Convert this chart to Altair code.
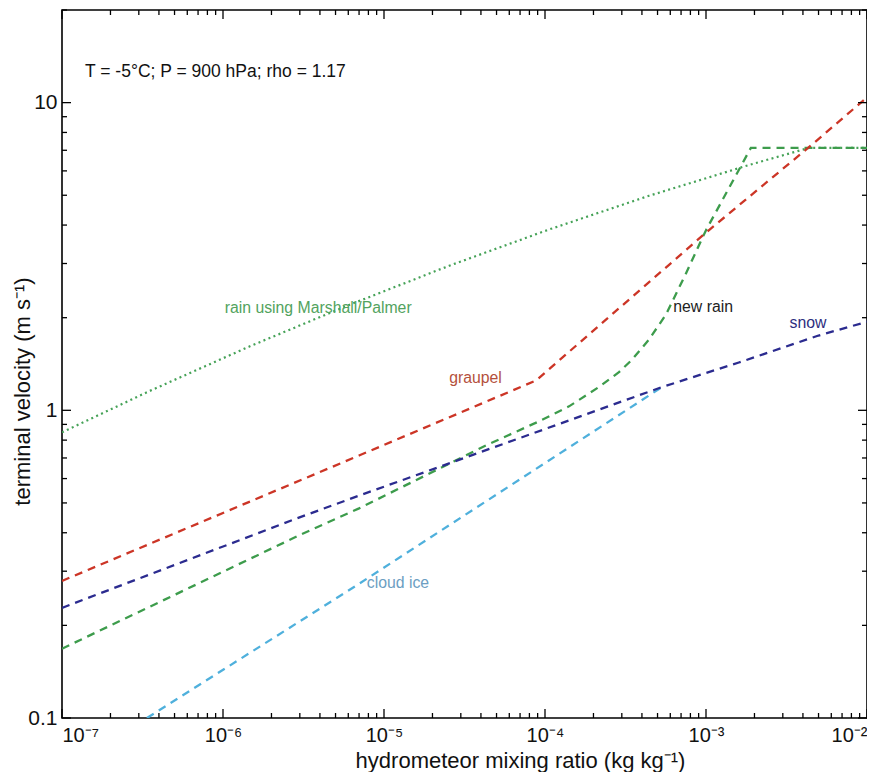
import altair as alt
import pandas as pd

# ---------------- data ----------------
X_DOMAIN = [1e-7, 1e-2]
Y_DOMAIN = [0.1, 20]

mp_x = [1e-7, 3.47e-7, 1.45e-6, 6.07e-6, 2.54e-5, 1.06e-4, 4.43e-4, 1.85e-3, 4.37e-3, 1e-2]
mp_v = [0.848, 1.153, 1.61, 2.20, 2.95, 3.87, 4.98, 6.27, 7.13, 7.13]

graupel_x = [1e-7, 7.0e-6, 8.8e-5, 1e-3, 4.55e-3, 1e-2]
graupel_v = [0.279, 0.713, 1.25, 3.78, 7.3, 10.4]

snow_x = [1e-7, 2.96e-6, 7.0e-6, 5.33e-4, 1.6e-3, 5.0e-3, 1e-2]
snow_v = [0.228, 0.448, 0.528, 1.19, 1.43, 1.75, 1.94]

newrain_x = [1e-7, 2.96e-6, 7.0e-6, 4.3e-5, 9.18e-5, 1.41e-4, 2.16e-4, 2.88e-4, 3.47e-4,
             4.43e-4, 5.65e-4, 7.52e-4, 1e-3, 1.39e-3, 1.9e-3, 1e-2]
newrain_v = [0.168, 0.392, 0.480, 0.769, 0.921, 1.03, 1.19, 1.33, 1.46,
             1.70, 2.05, 2.79, 3.85, 5.28, 7.13, 7.13]

cloudice_x = [3.37e-7, 7.0e-6, 5.33e-4]
cloudice_v = [0.1, 0.273, 1.19]

labels_text = ["rain using Marshall/Palmer", "graupel", "new rain", "snow", "cloud ice"]
labels_x = [3.9e-6, 3.7e-5, 9.6e-4, 4.3e-3, 1.22e-5]
labels_v = [2.15, 1.27, 2.16, 1.92, 0.275]
labels_color = ["#52a35e", "#b4503c", "#222222", "#2e2e80", "#6c9ec2"]

note_text = "T = -5°C; P = 900 hPa; rho = 1.17"
note_x = [1.39e-7]
note_v = [12.6]

x_tick_values = [1e-7, 1e-6, 1e-5, 1e-4, 1e-3, 1e-2]
x_tick_labels = ["10⁻⁷", "10⁻⁶", "10⁻⁵", "10⁻⁴", "10⁻³", "10⁻²"]
y_tick_values = [0.1, 1, 10]
y_tick_labels = ["0.1", "1", "10"]

x_minor = [k * 10.0 ** d for d in range(-7, -2) for k in range(2, 10)]
y_minor = [k * 10.0 ** d for d in (-1, 0) for k in range(2, 10)] + [20]

# ---------------- styling ----------------
W, H = 805, 708
FONT = "Liberation Sans"

xs = alt.Scale(type="log", domain=X_DOMAIN)
ys = alt.Scale(type="log", domain=Y_DOMAIN)

x_label_expr = "[" + ",".join(f"'{s}'" for s in x_tick_labels) + "][round(log(datum.value)/LN10) + 7]"
y_label_expr = "[" + ",".join(f"'{s}'" for s in y_tick_labels) + "][round(log(datum.value)/LN10) + 1]"

x_axis = alt.Axis(values=x_tick_values, labelExpr=x_label_expr, ticks=False, tickSize=0,
                  domain=False, grid=False, labelFlush=True, labelFontSize=20,
                  labelPadding=7, labelColor="#111111",
                  title="hydrometeor mixing ratio (kg kg⁻¹)", titleFontSize=22,
                  titleFontWeight="normal", titleColor="#111111",
                  titleX=458, titleY=49, titleAlign="center", titleBaseline="alphabetic")
y_axis = alt.Axis(values=y_tick_values, labelExpr=y_label_expr, ticks=False, tickSize=0,
                  domain=False, grid=False, labelFontSize=21, labelPadding=5,
                  labelColor="#111111",
                  title="terminal velocity (m s⁻¹)", titleFontSize=22,
                  titleFontWeight="normal", titleColor="#111111",
                  titleX=-28, titleY=381, titleAlign="center", titleBaseline="bottom",
                  titleAngle=270)

X = lambda: alt.X("x:Q", scale=xs, axis=x_axis)
Y = lambda: alt.Y("v:Q", scale=ys, axis=y_axis)

series = [
    (mp_x, mp_v, "#45a257", [2, 3.4], 2.2),
    (cloudice_x, cloudice_v, "#4fb0dc", [8, 6], 2.3),
    (newrain_x, newrain_v, "#3d9c4c", [8, 6], 2.3),
    (snow_x, snow_v, "#2b2b8f", [8, 6], 2.3),
    (graupel_x, graupel_v, "#cc3526", [8, 6], 2.3),
]

layers = []
for sx, sv, col, dash, sw in series:
    df = pd.DataFrame({"x": sx, "v": sv})
    layers.append(
        alt.Chart(df).mark_line(color=col, strokeDash=dash, strokeWidth=sw, clip=True)
        .encode(x=X(), y=Y())
    )

lab_df = pd.DataFrame({"x": labels_x, "v": labels_v, "t": labels_text, "c": labels_color})
layers.append(
    alt.Chart(lab_df).mark_text(fontSize=15.8, font=FONT, align="center", baseline="middle")
    .encode(x=X(), y=Y(), text="t:N", color=alt.Color("c:N", scale=None))
)

note_df = pd.DataFrame({"x": note_x, "v": note_v, "t": [note_text]})
layers.append(
    alt.Chart(note_df).mark_text(fontSize=17.5, font=FONT, align="left", baseline="middle", color="#111111")
    .encode(x=X(), y=Y(), text="t:N")
)

# tick marks (inward, on all four sides)
xmaj = pd.DataFrame({"x": x_tick_values})
xmin = pd.DataFrame({"x": x_minor})
ymaj = pd.DataFrame({"v": y_tick_values})
ymin = pd.DataFrame({"v": y_minor})
MAJ, MIN = 9, 5
for df, ln in ((xmaj, MAJ), (xmin, MIN)):
    layers.append(alt.Chart(df).mark_rule(color="black", strokeWidth=1.3)
                  .encode(x=X(), y=alt.value(H), y2=alt.value(H - ln)))
    layers.append(alt.Chart(df).mark_rule(color="black", strokeWidth=1.3)
                  .encode(x=X(), y=alt.value(0), y2=alt.value(ln)))
for df, ln in ((ymaj, MAJ), (ymin, MIN)):
    layers.append(alt.Chart(df).mark_rule(color="black", strokeWidth=1.3)
                  .encode(y=Y(), x=alt.value(0), x2=alt.value(ln)))
    layers.append(alt.Chart(df).mark_rule(color="black", strokeWidth=1.3)
                  .encode(y=Y(), x=alt.value(W), x2=alt.value(W - ln)))

chart = (
    alt.layer(*layers)
    .properties(width=W, height=H, autosize=alt.AutoSizeParams(type="none"),
                padding={"left": 54, "top": 2, "right": 0, "bottom": 54})
    .configure(font=FONT)
    .configure_view(stroke="black", strokeWidth=1.6)
)

chart.save("out.html", embed_options={"renderer": "svg", "actions": False})
